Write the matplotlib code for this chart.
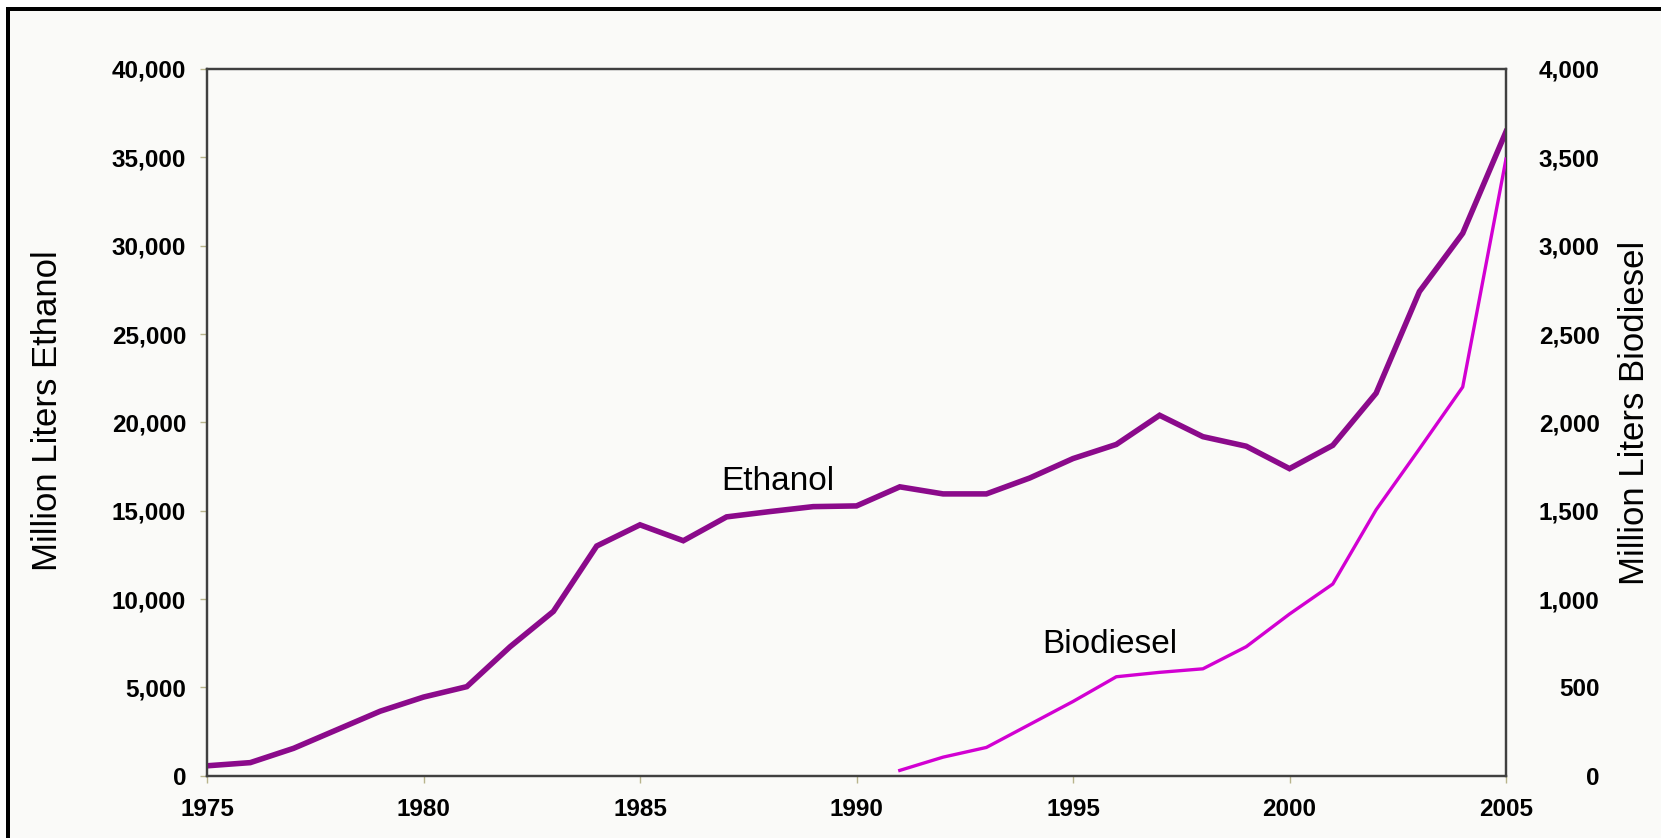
import matplotlib.pyplot as plt
from matplotlib.patches import Rectangle

plt.rcParams['font.family'] = ['Liberation Sans', 'DejaVu Sans']

# data
years = list(range(1975, 2006))
ethanol = [560, 740, 1550, 2600, 3650, 4450, 5040, 7300, 9300, 13000,
           14200, 13300, 14650, 14950, 15230, 15270, 16350, 15950, 15950, 16850,
           17950, 18750, 20400, 19190, 18650, 17380, 18700, 21650, 27400, 30700,
           36450]
bio_years = list(range(1991, 2006))
biodiesel = [30, 105, 160, 290, 420, 560, 585, 605, 730, 915,
             1085, 1505, 1850, 2200, 3490]

x_ticks = list(range(1975, 2006, 5))
left_ticks = list(range(0, 40001, 5000))
right_ticks = list(range(0, 4001, 500))

W, H = 1661, 838
bg = '#FAFAF8'
fig = plt.figure(figsize=(W / 100, H / 100), dpi=100)
fig.patch.set_facecolor('white')

# off-white panel with black frame on left and top
fig.add_artist(Rectangle((6 / W, 0), 1, 1 - 7 / H, transform=fig.transFigure,
                         facecolor=bg, edgecolor='none', zorder=-5))
fig.add_artist(Rectangle((6 / W, 0), 4 / W, 1 - 7 / H, transform=fig.transFigure,
                         facecolor='black', edgecolor='none', zorder=-4))
fig.add_artist(Rectangle((6 / W, 1 - 11 / H), 1, 4 / H, transform=fig.transFigure,
                         facecolor='black', edgecolor='none', zorder=-4))

ax = fig.add_axes([207 / W, 1 - 775.7 / H, (1506 - 207) / W, (775.7 - 69) / H])
ax.set_facecolor(bg)
ax2 = ax.twinx()

ax.plot(years, ethanol, color='#8B0A8B', linewidth=4, solid_joinstyle='miter', zorder=3)
ax2.plot(bio_years, biodiesel, color='#D200D2', linewidth=2.4, zorder=3)

ax.set_xlim(1975, 2005)
ax.set_ylim(0, 40000)
ax2.set_ylim(0, 4000)

ax.set_xticks(x_ticks)
ax.set_xticklabels([str(v) for v in x_ticks], fontsize=17.5, fontweight='bold')
ax.set_yticks(left_ticks)
ax.set_yticklabels([f'{v:,}' for v in left_ticks], fontsize=17.5, fontweight='bold')
ax2.set_yticks(right_ticks)
ax2.set_yticklabels([f'{v:,}' for v in right_ticks], fontsize=17.5, fontweight='bold')
for lbl in ax2.get_yticklabels():
    lbl.set_horizontalalignment('right')

tick_col = '#B8B48C'
ax.tick_params(axis='x', length=5, width=1, color=tick_col, pad=11)
ax.tick_params(axis='y', length=5, width=1, color=tick_col, pad=10)
ax2.tick_params(axis='y', length=0, pad=67.5)

for a in (ax, ax2):
    for s in a.spines.values():
        s.set_color('#404040')
        s.set_linewidth(1.6)

ax.text(1988.19, 16171, 'Ethanol', fontsize=24, ha='center', va='baseline', zorder=4)
ax.text(1995.86, 6945, 'Biodiesel', fontsize=24, ha='center', va='baseline', zorder=4)

fig.text(48 / W, 1 - 411 / H, 'Million Liters Ethanol', rotation=90,
         fontsize=25, ha='center', va='center')
fig.text(1635 / W, 1 - 413 / H, 'Million Liters Biodiesel', rotation=90,
         fontsize=25, ha='center', va='center')

plt.savefig('out.png', dpi=100, facecolor=fig.get_facecolor())
